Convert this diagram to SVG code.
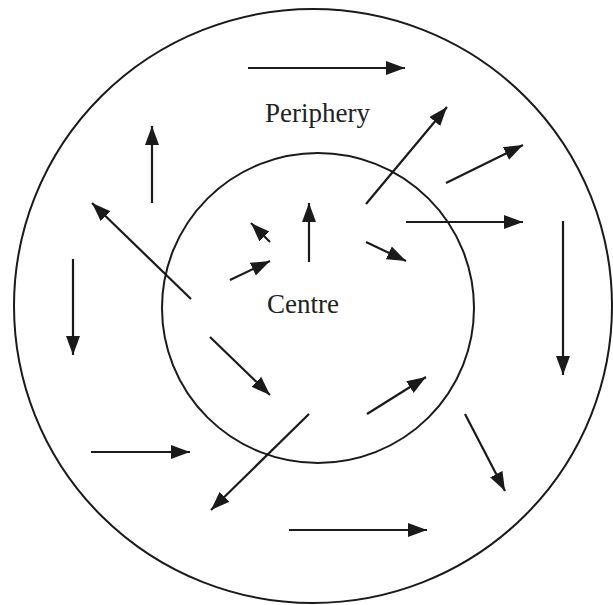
<svg xmlns="http://www.w3.org/2000/svg" width="613" height="605" viewBox="0 0 613 605">
<style>
.ring{fill:none;stroke:#1a1a1a;stroke-width:2}
.lbl{font-family:"Liberation Serif","Times New Roman",serif;font-size:27px;fill:#222}
.arr{stroke:#1a1a1a;stroke-width:2.2;fill:none;marker-end:url(#ah)}
</style>
<defs>
<marker id="ah" markerUnits="userSpaceOnUse" markerWidth="20" markerHeight="16" viewBox="0 0 20 16" refX="19" refY="8" orient="auto">
<path d="M0,1 L19,8 L0,15 Z" fill="#1a1a1a"/>
</marker>
</defs>
<rect width="613" height="605" fill="#fff"/>
<g id="periphery">
<ellipse class="ring" cx="313" cy="306" rx="299" ry="297"/>
<text class="lbl" x="265" y="122">Periphery</text>
</g>
<g id="centre">
<ellipse class="ring" cx="318" cy="308" rx="156" ry="155"/>
<text class="lbl" x="267" y="313">Centre</text>
</g>
<g id="connectors">
<line class="arr" x1="248" y1="68" x2="405" y2="68"/>
<line class="arr" x1="152" y1="203" x2="152" y2="126"/>
<line class="arr" x1="366" y1="204" x2="447" y2="107"/>
<line class="arr" x1="446" y1="183" x2="523" y2="145"/>
<line class="arr" x1="191" y1="299" x2="92" y2="203"/>
<line class="arr" x1="270" y1="242" x2="251" y2="223"/>
<line class="arr" x1="230" y1="280" x2="270" y2="261"/>
<line class="arr" x1="309" y1="262" x2="309" y2="203"/>
<line class="arr" x1="366" y1="242" x2="406" y2="261"/>
<line class="arr" x1="406" y1="222" x2="523" y2="222"/>
<line class="arr" x1="73" y1="259" x2="73" y2="355"/>
<line class="arr" x1="563" y1="221" x2="563" y2="375"/>
<line class="arr" x1="210" y1="337" x2="270" y2="395"/>
<line class="arr" x1="367" y1="414" x2="426" y2="377"/>
<line class="arr" x1="309" y1="414" x2="211" y2="510"/>
<line class="arr" x1="465" y1="414" x2="505" y2="491"/>
<line class="arr" x1="91" y1="452" x2="190" y2="452"/>
<line class="arr" x1="289" y1="530" x2="427" y2="530"/>
</g>
</svg>
